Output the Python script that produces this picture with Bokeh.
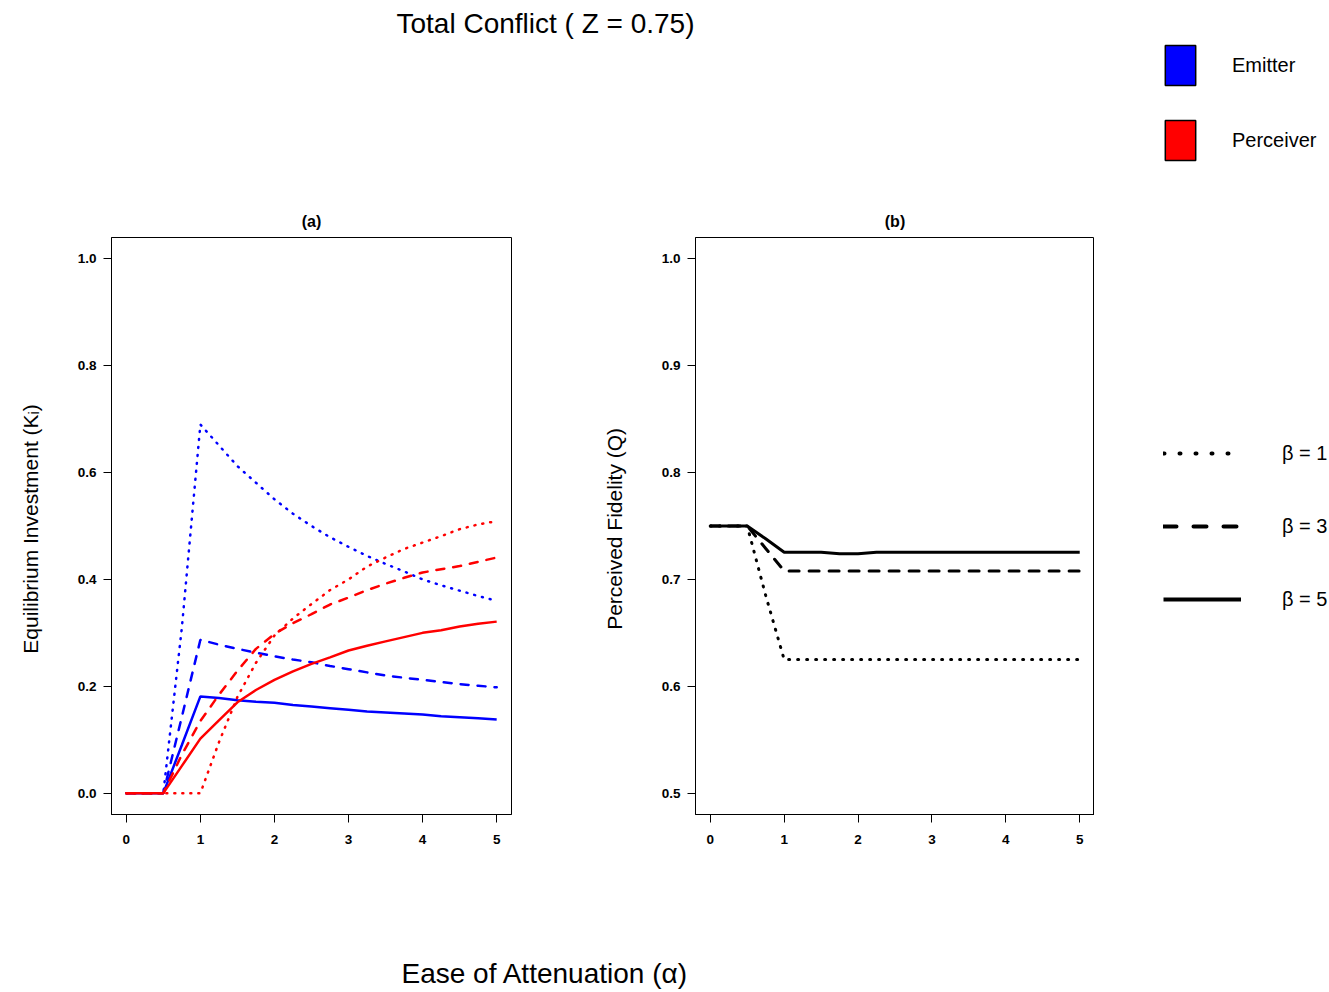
import numpy as np
from bokeh.plotting import figure
from bokeh.models import Range1d, FixedTicker, Legend, LegendItem
from bokeh.layouts import column, row
from bokeh.embed import file_html
from bokeh.resources import INLINE

# ---------------- data ----------------
alpha = [0.0, 0.25, 0.5, 0.75, 1.0, 1.25, 1.5, 1.75, 2.0, 2.25, 2.5,
         2.75, 3.0, 3.25, 3.5, 3.75, 4.0, 4.25, 4.5, 4.75, 5.0]

# Panel (a): equilibrium investment
emitter_b1 = [0, 0, 0, 0.310, 0.690, 0.651, 0.612, 0.581, 0.550, 0.523, 0.500,
              0.479, 0.461, 0.444, 0.429, 0.415, 0.400, 0.389, 0.379, 0.369, 0.360]
emitter_b3 = [0, 0, 0, 0.143, 0.287, 0.278, 0.270, 0.263, 0.256, 0.250, 0.245,
              0.238, 0.232, 0.226, 0.220, 0.216, 0.212, 0.208, 0.204, 0.201, 0.198]
emitter_b5 = [0, 0, 0, 0.090, 0.181, 0.178, 0.174, 0.171, 0.169, 0.165, 0.162,
              0.159, 0.156, 0.153, 0.151, 0.149, 0.147, 0.144, 0.142, 0.140, 0.138]
perceiver_b1 = [0, 0, 0, 0, 0, 0.095, 0.180, 0.244, 0.295, 0.327, 0.354,
                0.380, 0.400, 0.424, 0.441, 0.457, 0.469, 0.481, 0.494, 0.503, 0.509]
perceiver_b3 = [0, 0, 0, 0.072, 0.135, 0.184, 0.229, 0.270, 0.298, 0.318, 0.335,
                0.353, 0.366, 0.380, 0.392, 0.403, 0.413, 0.419, 0.425, 0.433, 0.441]
perceiver_b5 = [0, 0, 0, 0.051, 0.102, 0.136, 0.170, 0.193, 0.212, 0.228, 0.242,
                0.254, 0.267, 0.276, 0.284, 0.292, 0.300, 0.305, 0.312, 0.317, 0.321]

# Panel (b): perceived fidelity
fidelity_b1 = [0.75, 0.75, 0.75, 0.685, 0.625, 0.625, 0.625, 0.625, 0.625, 0.625, 0.625,
               0.625, 0.625, 0.625, 0.625, 0.625, 0.625, 0.625, 0.625, 0.625, 0.625]
fidelity_b3 = [0.75, 0.75, 0.75, 0.729, 0.708, 0.708, 0.708, 0.708, 0.708, 0.708, 0.708,
               0.708, 0.708, 0.708, 0.708, 0.708, 0.708, 0.708, 0.708, 0.708, 0.708]
fidelity_b5 = [0.75, 0.75, 0.75, 0.738, 0.7255, 0.7255, 0.7255, 0.724, 0.724, 0.7255, 0.7255,
               0.7255, 0.7255, 0.7255, 0.7255, 0.7255, 0.7255, 0.7255, 0.7255, 0.7255, 0.7255]

x_ticks = [0, 1, 2, 3, 4, 5]
x_tick_labels = ["0", "1", "2", "3", "4", "5"]
ya_ticks = [0.0, 0.2, 0.4, 0.6, 0.8, 1.0]
ya_tick_labels = ["0.0", "0.2", "0.4", "0.6", "0.8", "1.0"]
yb_ticks = [0.5, 0.6, 0.7, 0.8, 0.9, 1.0]
yb_tick_labels = ["0.5", "0.6", "0.7", "0.8", "0.9", "1.0"]

role_labels = ["Emitter", "Perceiver"]
beta_labels = ["\u03b2 = 1", "\u03b2 = 3", "\u03b2 = 5"]

main_title = "Total Conflict  ( Z = 0.75)"
x_label = "Ease of Attenuation  (\u03b1)"
ya_label = "Equilibrium Investment  (K\u1d62)"
yb_label = "Perceived Fidelity  (Q)"

FONT = "Liberation Sans"
BLUE = "#0000FF"
RED = "#FF0000"
INK = "#000000"

NAN = [np.nan]


def bare(p):
    p.grid.visible = False


def style_panel(p, yt, yl, ylabel):
    p.grid.visible = False
    p.outline_line_color = INK
    p.outline_line_width = 1
    p.title.align = "center"
    p.title.text_font = FONT
    p.title.text_font_size = "16px"
    p.title.text_font_style = "bold"
    p.title.text_color = INK
    p.title.standoff = 15
    p.xaxis.ticker = FixedTicker(ticks=x_ticks)
    p.xaxis.major_label_overrides = dict(zip(x_ticks, x_tick_labels))
    p.yaxis.ticker = FixedTicker(ticks=yt)
    p.yaxis.major_label_overrides = dict(zip(yt, yl))
    for ax in p.axis:
        ax.major_tick_out = 8
        ax.major_tick_in = 0
        ax.minor_tick_out = 0
        ax.minor_tick_in = 0
        ax.axis_line_color = INK
        ax.major_tick_line_color = INK
        ax.major_label_text_font = FONT
        ax.major_label_text_font_size = "13.5px"
        ax.major_label_text_font_style = "bold"
        ax.major_label_text_color = INK
    p.xaxis.major_label_standoff = 12
    p.yaxis.major_label_standoff = 7
    p.yaxis.axis_label = ylabel
    p.yaxis.axis_label_text_font = FONT
    p.yaxis.axis_label_text_font_size = "21px"
    p.yaxis.axis_label_text_font_style = "normal"
    p.yaxis.axis_label_text_color = INK
    p.yaxis.axis_label_standoff = 33


# ---------------- header (overall title + colour key) ----------------
hdr = figure(width=1329, height=198, x_range=Range1d(0, 1), y_range=Range1d(0, 1),
             x_axis_location=None, y_axis_location=None,
             min_border_left=111, min_border_right=0, min_border_top=38, min_border_bottom=0,
             outline_line_color=None, toolbar_location=None, output_backend="svg",
             title=main_title)
bare(hdr)
hdr.title.align = "left"
hdr.title.offset = 285
hdr.title.text_font = FONT
hdr.title.text_font_size = "28px"
hdr.title.text_font_style = "normal"
hdr.title.text_color = INK
hdr.title.standoff = 0

r_em = hdr.quad(left=NAN, right=NAN, top=NAN, bottom=NAN,
                fill_color=BLUE, line_color=INK, line_width=1.5)
r_pe = hdr.quad(left=NAN, right=NAN, top=NAN, bottom=NAN,
                fill_color=RED, line_color=INK, line_width=1.5)
leg_role = Legend(items=[LegendItem(label=role_labels[0], renderers=[r_em]),
                         LegendItem(label=role_labels[1], renderers=[r_pe])],
                  location=(1050, 33), orientation="vertical",
                  glyph_width=38, glyph_height=50, spacing=25, label_standoff=33,
                  padding=0, margin=0, border_line_color=None, background_fill_alpha=0,
                  label_text_font=FONT, label_text_font_size="20px", label_text_color=INK)
hdr.add_layout(leg_role)

# ---------------- panel (a) ----------------
pa = figure(width=560, height=682, x_range=Range1d(-0.2, 5.2), y_range=Range1d(-0.04, 1.04),
            min_border_left=111, min_border_right=49, min_border_top=39, min_border_bottom=66,
            toolbar_location=None, output_backend="svg", title="(a)")
style_panel(pa, ya_ticks, ya_tick_labels, ya_label)

LW_A = 2.5
pa.line(alpha, emitter_b1, line_color=BLUE, line_width=LW_A, line_dash="1 7", line_cap="round")
pa.line(alpha, emitter_b3, line_color=BLUE, line_width=LW_A, line_dash="8 9", line_cap="round")
pa.line(alpha, emitter_b5, line_color=BLUE, line_width=LW_A)
pa.line(alpha, perceiver_b1, line_color=RED, line_width=LW_A, line_dash="1 7", line_cap="round")
pa.line(alpha, perceiver_b3, line_color=RED, line_width=LW_A, line_dash="8 9", line_cap="round")
pa.line(alpha, perceiver_b5, line_color=RED, line_width=LW_A)

# ---------------- panel (b) ----------------
pb = figure(width=534, height=682, x_range=Range1d(-0.2, 5.2), y_range=Range1d(0.48, 1.02),
            min_border_left=135, min_border_right=0, min_border_top=39, min_border_bottom=66,
            toolbar_location=None, output_backend="svg", title="(b)")
style_panel(pb, yb_ticks, yb_tick_labels, yb_label)

LW_B = 3
pb.line(alpha, fidelity_b1, line_color=INK, line_width=LW_B, line_dash="1 8", line_cap="round")
pb.line(alpha, fidelity_b3, line_color=INK, line_width=LW_B, line_dash="10 10", line_cap="round")
pb.line(alpha, fidelity_b5, line_color=INK, line_width=LW_B)

# ---------------- beta key (beside panel b) ----------------
keyb = figure(width=235, height=682, x_range=Range1d(0, 1), y_range=Range1d(0, 1),
              x_axis_location=None, y_axis_location=None,
              min_border_left=0, min_border_right=0, min_border_top=39, min_border_bottom=66,
              outline_line_color=None, toolbar_location=None, output_backend="svg")
bare(keyb)
l1 = keyb.line(NAN, NAN, line_color=INK, line_width=4, line_dash="1 15", line_cap="round")
l3 = keyb.line(NAN, NAN, line_color=INK, line_width=4, line_dash="13 17", line_cap="round")
l5 = keyb.line(NAN, NAN, line_color=INK, line_width=4)
leg_beta = Legend(items=[LegendItem(label=beta_labels[0], renderers=[l1]),
                         LegendItem(label=beta_labels[1], renderers=[l3]),
                         LegendItem(label=beta_labels[2], renderers=[l5])],
                  location=(69, 200), orientation="vertical",
                  glyph_width=78, glyph_height=30, spacing=43, label_standoff=41,
                  padding=0, margin=0, border_line_color=None, background_fill_alpha=0,
                  label_text_font=FONT, label_text_font_size="20px", label_text_color=INK)
keyb.add_layout(leg_beta)

# ---------------- footer (shared x label) ----------------
ftr = figure(width=1329, height=112, x_range=Range1d(0, 1), y_range=Range1d(0, 1),
             x_axis_location=None, y_axis_location=None, title_location="below",
             min_border_left=111, min_border_right=0, min_border_top=0, min_border_bottom=0,
             outline_line_color=None, toolbar_location=None, output_backend="svg",
             title=x_label)
bare(ftr)
ftr.title.align = "left"
ftr.title.offset = 290
ftr.title.text_font = FONT
ftr.title.text_font_size = "28px"
ftr.title.text_font_style = "normal"
ftr.title.text_color = INK
ftr.title.standoff = 8

p = column(hdr, row(pa, pb, keyb, spacing=0), ftr, spacing=0)

open("out.html", "w").write(file_html(p, INLINE))
